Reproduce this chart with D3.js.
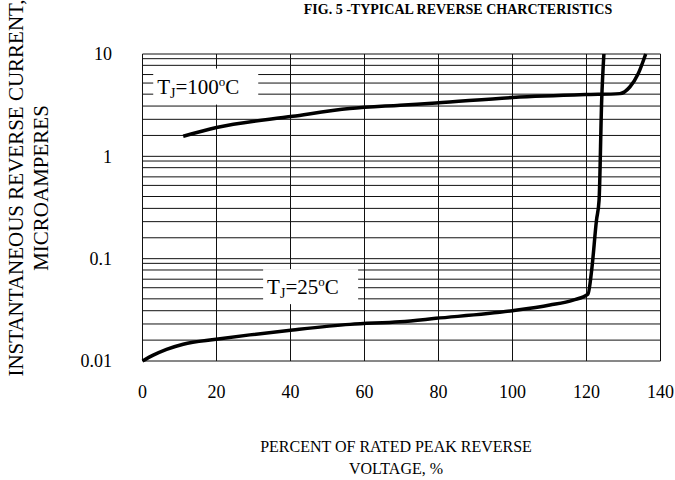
<!DOCTYPE html>
<html>
<head>
<meta charset="utf-8">
<script src="https://cdn.jsdelivr.net/npm/d3@7/dist/d3.min.js"></script>
<style>
body { margin: 0; background: #fff; }
text { font-family: "Liberation Serif", "Times New Roman", serif; fill: #000; }
</style>
</head>
<body>
<svg></svg>
<script>
var width = 675,
    height = 480;

// axis ticks
var xTicks = [0, 20, 40, 60, 80, 100, 120, 140];
var yTicks = [0.01, 0.1, 1, 10];
var yTickLabels = ["0.01", "0.1", "1", "10"];
// minor lines inside each decade, as they sit on the sheet
var minorSteps = [1.6, 2.3, 3.1, 4.05, 5.2, 6.3, 7.75, 9];

// Tj = 100 C curve
var voltHot = [11, 20, 40.6, 56, 69.6, 79.3, 100, 119.7, 129, 131.7, 134, 136];
var currHot = [1.57, 1.91, 2.46, 2.93, 3.16, 3.32, 3.75, 4.01, 4.1, 4.76, 6.44, 10];

// Tj = 25 C curve
var voltCold = [0, 2.9, 6.5, 11, 19.9, 29, 40.6, 56.1, 69.6, 79.3, 100, 110.1, 116.4, 120.4, 121.4, 122.7, 123.4, 124.1, 124.7];
var currCold = [0.01, 0.0114, 0.013, 0.0146, 0.0163, 0.018, 0.0201, 0.0228, 0.0242, 0.0261, 0.031, 0.0352, 0.0394, 0.0451, 0.0774, 0.238, 0.373, 3.5, 10];

var svg = d3.select("svg")
    .attr("width", width)
    .attr("height", height);

var x = d3.scaleLinear().domain([0, 140]).range([142.5, 660.5]);
var y = d3.scaleLog().domain([0.01, 10]).range([361, 54]);

// all horizontal grid values
var hLines = [];
yTicks.slice(0, 3).forEach(function(d) {
  hLines.push(d);
  minorSteps.forEach(function(m) { hLines.push(d * m); });
});
hLines.push(10);

var grid = svg.append("g").attr("stroke", "#111").attr("stroke-width", 1);
grid.selectAll(".h")
    .data(hLines)
  .enter().append("line")
    .attr("x1", x(0)).attr("x2", x(140))
    .attr("y1", function(d) { return y(d); })
    .attr("y2", function(d) { return y(d); });
grid.selectAll(".v")
    .data(xTicks)
  .enter().append("line")
    .attr("y1", y(0.01)).attr("y2", y(10))
    .attr("x1", function(d) { return x(d); })
    .attr("x2", function(d) { return x(d); });

// label boxes punch out the grid
function tempLabel(px, py, w, h, temp) {
  svg.append("rect")
      .attr("x", px).attr("y", py).attr("width", w).attr("height", h)
      .attr("fill", "#fff");
  var t = svg.append("text")
      .attr("x", px + 4).attr("y", py + h / 2 + 7)
      .style("font-size", "21px");
  t.append("tspan").text("T");
  t.append("tspan").attr("dy", 4).style("font-size", "14px").text("J");
  t.append("tspan").attr("dy", -4).text("=" + temp);
  t.append("tspan").attr("dy", -8).style("font-size", "13px").text("o");
  t.append("tspan").attr("dy", 8).text("C");
}
tempLabel(x(2.9), y(7.2), 105, 36, 100);
tempLabel(x(32.6), y(0.079), 95, 35, 25);

var line = d3.line()
    .x(function(d) { return x(d[0]); })
    .y(function(d) { return y(d[1]); })
    .curve(d3.curveMonotoneX);

svg.append("path")
    .datum(d3.zip(voltHot, currHot))
    .attr("fill", "none").attr("stroke", "#000").attr("stroke-width", 3.5)
    .attr("d", line);
svg.append("path")
    .datum(d3.zip(voltCold, currCold))
    .attr("fill", "none").attr("stroke", "#000").attr("stroke-width", 3.5)
    .attr("d", line);

// tick labels
svg.append("g").selectAll("text")
    .data(yTicks)
  .enter().append("text")
    .attr("x", 112).attr("y", function(d) { return y(d); })
    .attr("dy", "0.35em")
    .attr("text-anchor", "end")
    .style("font-size", "18px")
    .text(function(d, i) { return yTickLabels[i]; });

svg.append("g").selectAll("text")
    .data(xTicks)
  .enter().append("text")
    .attr("x", function(d) { return x(d); }).attr("y", 398)
    .attr("text-anchor", "middle")
    .style("font-size", "18px")
    .text(function(d) { return d; });

// titles
svg.append("text")
    .attr("x", 458).attr("y", 14)
    .attr("text-anchor", "middle")
    .style("font-size", "14px").style("font-weight", "bold")
    .text("FIG. 5 -TYPICAL REVERSE CHARCTERISTICS");

svg.append("text")
    .attr("x", 396).attr("y", 452)
    .attr("text-anchor", "middle")
    .style("font-size", "16px")
    .text("PERCENT OF RATED PEAK REVERSE");
svg.append("text")
    .attr("x", 396).attr("y", 474)
    .attr("text-anchor", "middle")
    .style("font-size", "16px")
    .text("VOLTAGE, %");

var yt = svg.append("g").attr("transform", "translate(0,188) rotate(-90)");
yt.append("text")
    .attr("x", 0).attr("y", 23)
    .attr("text-anchor", "middle")
    .style("font-size", "21px")
    .text("INSTANTANEOUS REVERSE CURRENT,");
yt.append("text")
    .attr("x", 0).attr("y", 48)
    .attr("text-anchor", "middle")
    .style("font-size", "21px")
    .text("MICROAMPERES");
</script>
</body>
</html>
